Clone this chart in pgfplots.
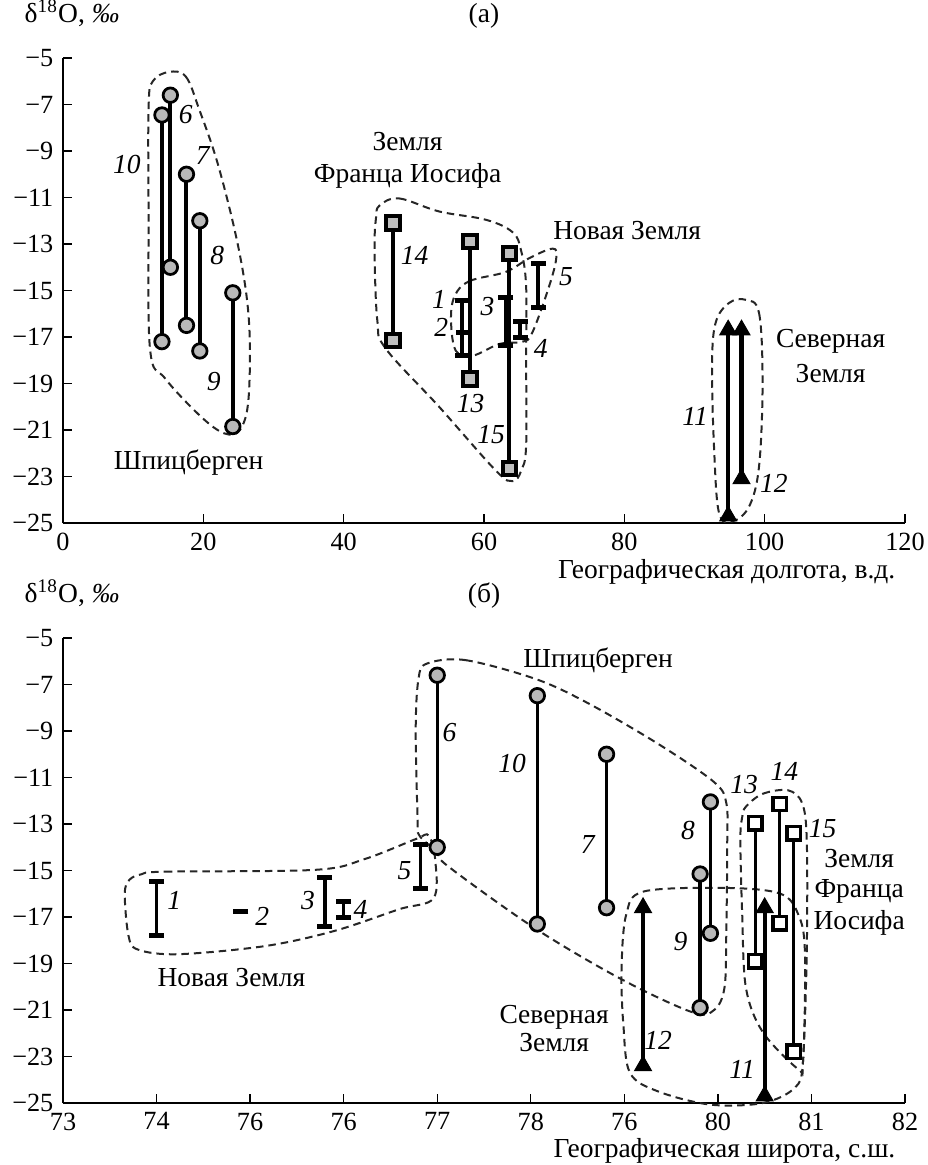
\documentclass[border=0pt]{standalone}
\usepackage{fontspec}
\setmainfont{Liberation Serif}
\usepackage{pgfplots}
\pgfplotsset{compat=1.18}

\tikzset{
  outline/.style={dash pattern=on 3pt off 2pt, line width=0.8pt, black!85},
  num/.style={font=\itshape},
}
\pgfplotsset{
  panel/.style={scale only axis, width=336.8pt, height=186pt,
    axis lines=left, axis line style={-, line width=0.5pt},
    tick align=inside, major tick length=3.6pt,
    tick style={black, line width=0.5pt},
    tick label style={font=\fontsize{10.5}{12}\selectfont},
    ymin=-25, ymax=-5, ytick={-25,-23,...,-5},
    yticklabels={−25,−23,−21,−19,−17,−15,−13,−11,−9,−7,−5},
    clip=false},
  circ/.style={black, line width=#1, mark=*, mark size=2.9pt,
    mark options={fill=gray!55, line width=1.1pt, solid}},
  sq/.style={black, line width=#1, mark=square*, mark size=2.7pt,
    mark options={line width=1.1pt, solid}},
  tri/.style={black, line width=#1, mark=triangle*, mark size=3.9pt,
    mark options={fill=black, line width=0.4pt, solid}},
  ibar/.style={black, line width=#1, mark=-, mark size=3pt,
    mark options={line width=2pt, solid}},
}

\begin{document}
\fontsize{11}{13}\selectfont
\begin{tikzpicture}
\path[use as bounding box] (-25.2pt,209.2pt) rectangle (346pt,-256.8pt);

% (a) longitude
\begin{axis}[panel, at={(0,0)}, anchor=south west,
  xmin=0, xmax=120, xtick={0,20,...,120},
  xticklabels={0,20,40,60,80,100,120}]
% outlines
\draw[outline] plot[smooth cycle, tension=0.6] coordinates {(15.1,-5.6) (17.5,-5.8) (19.4,-7.2) (22.2,-9.7) (25.1,-13.3) (26.5,-16.3) (26.5,-19.4) (25.6,-20.8) (23.7,-21.2) (20.3,-20.6) (14.6,-18.8) (12.4,-17.5) (12.2,-11.7) (12.2,-7.1) (12.8,-6.0)};
\draw[outline] plot[smooth cycle, tension=0.6] coordinates {(45.1,-11.35) (47.9,-11.04) (53.6,-11.6) (60.3,-11.96) (64.1,-12.5) (65.3,-13.3) (66,-14.8) (66,-17.9) (66,-21.7) (65.3,-22.75) (64.1,-23.2) (61.7,-22.75) (53.6,-20) (46,-17.5) (44.8,-16.3) (44.4,-13.3) (44.6,-11.9)};
\draw[outline] plot[smooth cycle, tension=0.6] coordinates {(55.8,-15.25) (57.9,-14.6) (63.1,-14.2) (66.5,-13.6) (69.8,-13.2) (70.3,-13.6) (69.3,-14.8) (66.9,-16.8) (65.5,-17.2) (62.2,-17.3) (58.4,-17.8) (56,-17.6) (55.3,-16.3)};
\draw[outline] plot[smooth cycle, tension=0.6] coordinates {(97.3,-15.4) (99.2,-15.97) (99.7,-18.98) (99.2,-22.56) (97.8,-24.28) (95.4,-24.93) (93.5,-24.57) (92.8,-21.85) (92.5,-18.26) (93,-16.4) (94.9,-15.54)};
% Spitsbergen
\addplot[circ=1.6pt] coordinates {(14.1,-7.45) (14.1,-17.2)};   % 10
\addplot[circ=1.6pt] coordinates {(15.3,-6.6) (15.3,-14.0)};    % 6
\addplot[circ=1.6pt] coordinates {(17.6,-10.0) (17.6,-16.5)};   % 7
\addplot[circ=1.6pt] coordinates {(19.5,-12.0) (19.5,-17.6)};   % 8
\addplot[circ=1.6pt] coordinates {(24.2,-15.1) (24.2,-20.85)};  % 9
% Franz Josef Land
\addplot[sq=1.6pt, mark options={fill=gray!50}] coordinates {(47.0,-12.1) (47.0,-17.15)};  % 14
\addplot[sq=1.6pt, mark options={fill=gray!50}] coordinates {(58.0,-12.9) (58.0,-18.8)};   % 13
\addplot[sq=1.6pt, mark options={fill=gray!50}] coordinates {(63.6,-13.4) (63.6,-22.65)};  % 15
% Novaya Zemlya
\addplot[ibar=1.6pt] coordinates {(56.9,-15.45) (56.9,-17.8)};  % 1
\addplot[ibar=1.6pt] coordinates {(57.1,-16.8)};                 % 2
\addplot[ibar=1.6pt] coordinates {(63.1,-15.3) (63.1,-17.35)};  % 3
\addplot[ibar=1.6pt] coordinates {(65.2,-16.35) (65.2,-17.0)};  % 4
\addplot[ibar=1.6pt] coordinates {(67.7,-13.85) (67.7,-15.75)}; % 5
% Severnaya Zemlya
\addplot[tri=1.8pt] coordinates {(94.8,-16.7) (94.8,-24.7)};    % 11
\addplot[tri=1.8pt] coordinates {(96.7,-16.7) (96.7,-23.1)};    % 12
% labels
\node[num] at (9.1,-9.6) {10};
\node[num] at (17.5,-7.45) {6};
\node[num] at (19.9,-9.2) {7};
\node[num] at (22.0,-13.5) {8};
\node[num] at (21.5,-18.9) {9};
\node[num] at (50.1,-13.5) {14};
\node[num] at (58.1,-19.85) {13};
\node[num] at (61.0,-21.2) {15};
\node[num] at (53.6,-15.4) {1};
\node[num] at (53.9,-16.6) {2};
\node[num] at (60.5,-15.7) {3};
\node[num] at (68.1,-17.5) {4};
\node[num] at (71.7,-14.4) {5};
\node[num] at (90.1,-20.4) {11};
\node[num] at (101.3,-23.28) {12};
\node at (17.9,-22.4) {Шпицберген};
\node at (49.1,-8.6) {Земля};
\node at (49.1,-10.05) {Франца Иосифа};
\node at (80.4,-12.4) {Новая Земля};
\node at (109.4,-17.19) {Северная};
\node at (109.4,-18.55) {Земля};
\node[anchor=base] at (rel axis cs:0.5,1) [yshift=14.4pt] {(а)};
\node[anchor=base] at (rel axis cs:0,1) [xshift=3.6pt, yshift=14.4pt] {δ\textsuperscript{18}O, \textit{‰}};
\node[anchor=base east] at (rel axis cs:1,0) [yshift=-22pt] {Географическая долгота, в.д.};
\end{axis}

% (b) latitude
\begin{axis}[panel, at={(0,-232pt)}, anchor=south west,
  xmin=73, xmax=82, xtick={73,...,82},
  xticklabels={73,74,76,76,77,78,76,80,81,82}]
\draw[outline] plot[smooth cycle, tension=0.55] coordinates {(73.84,-15.16) (74.09,-15.05) (75.7,-14.97) (76.23,-14.5) (76.77,-13.65) (76.91,-13.5) (76.98,-14.6) (76.96,-16.2) (76.59,-16.67) (75.9,-17.6) (75.16,-18.25) (74.23,-18.6) (73.8,-18.4) (73.7,-17.8) (73.66,-16.0) (73.71,-15.4)};
\draw[outline] plot[smooth cycle, tension=0.55] coordinates {(76.89,-6.1) (77.3,-5.95) (78.05,-6.76) (78.61,-7.8) (79.36,-9.55) (79.96,-11.2) (80.09,-12.1) (80.1,-13.7) (80.09,-17.7) (80.07,-20.05) (79.96,-21.0) (79.73,-21.1) (78.98,-19.7) (78.05,-17.5) (77.11,-14.8) (77.0,-14.2) (76.81,-13.5) (76.79,-12.7) (76.77,-8.9) (76.8,-6.75)};
\draw[outline] plot[smooth cycle, tension=0.55] coordinates {(79.21,-15.9) (80.1,-15.75) (80.67,-16.0) (80.86,-16.9) (80.93,-18.5) (80.91,-23.2) (80.82,-24.35) (80.48,-25.0) (79.92,-25.07) (79.36,-24.5) (79.06,-23.7) (78.99,-21.65) (78.97,-19.26) (79.02,-16.9)};
\draw[outline] plot[smooth cycle, tension=0.55] coordinates {(80.3,-12.25) (80.48,-11.7) (80.75,-11.55) (80.9,-12.1) (80.95,-13.7) (80.95,-18.5) (80.91,-23.2) (80.86,-23.55) (80.48,-21.95) (80.3,-20.05) (80.26,-16.9) (80.24,-13.7) (80.26,-12.7)};
% Novaya Zemlya
\addplot[ibar=1.3pt] coordinates {(74.0,-15.48) (74.0,-17.78)};  % 1
\addplot[ibar=1.3pt] coordinates {(74.9,-16.78)};                % 2
\addplot[ibar=1.3pt] coordinates {(75.8,-15.32) (75.8,-17.41)};  % 3
\addplot[ibar=1.3pt] coordinates {(76.0,-16.35) (76.0,-17.02)};  % 4
\addplot[ibar=1.3pt] coordinates {(76.82,-13.86) (76.82,-15.76)};% 5
% Spitsbergen
\addplot[circ=1.3pt] coordinates {(77.0,-6.6) (77.0,-14.0)};     % 6
\addplot[circ=1.3pt] coordinates {(78.07,-7.48) (78.07,-17.3)};  % 10
\addplot[circ=1.3pt] coordinates {(78.81,-10.0) (78.81,-16.6)};  % 7
\addplot[circ=1.3pt] coordinates {(79.92,-12.05) (79.92,-17.7)}; % 8
\addplot[circ=1.3pt] coordinates {(79.81,-15.15) (79.81,-20.9)}; % 9
% Franz Josef Land
\addplot[sq=1.3pt, mark options={fill=white}] coordinates {(80.4,-12.97) (80.4,-18.9)};   % 13
\addplot[sq=1.3pt, mark options={fill=white}] coordinates {(80.66,-12.14) (80.66,-17.27)}; % 14
\addplot[sq=1.3pt, mark options={fill=white}] coordinates {(80.81,-13.4) (80.81,-22.8)};  % 15
% Severnaya Zemlya
\addplot[tri=1.5pt] coordinates {(79.2,-16.6) (79.2,-23.4)};     % 12
\addplot[tri=1.5pt] coordinates {(80.5,-16.6) (80.5,-24.7)};     % 11
% labels
\node[num] at (74.19,-16.27) {1};
\node[num] at (75.13,-16.98) {2};
\node[num] at (75.62,-16.27) {3};
\node[num] at (76.18,-16.67) {4};
\node[num] at (76.65,-15.0) {5};
\node[num] at (77.13,-9.05) {6};
\node[num] at (77.8,-10.4) {10};
\node[num] at (78.61,-13.9) {7};
\node[num] at (79.68,-13.3) {8};
\node[num] at (79.6,-18.05) {9};
\node[num] at (80.28,-11.3) {13};
\node[num] at (80.71,-10.74) {14};
\node[num] at (81.12,-13.2) {15};
\node[num] at (79.36,-22.3) {12};
\node[num] at (80.26,-23.56) {11};
\node at (74.8,-19.6) {Новая Земля};
\node at (78.72,-5.96) {Шпицберген};
\node at (81.51,-14.48) {Земля};
\node at (81.51,-15.9) {Франца};
\node at (81.51,-17.27) {Иосифа};
\node at (78.25,-21.3) {Северная};
\node at (78.25,-22.4) {Земля};
\node[anchor=base] at (rel axis cs:0.5,1) [yshift=14.4pt] {(б)};
\node[anchor=base] at (rel axis cs:0,1) [xshift=3.6pt, yshift=14.4pt] {δ\textsuperscript{18}O, \textit{‰}};
\node[anchor=base east] at (rel axis cs:1,0) [yshift=-21.6pt] {Географическая широта, с.ш.};
\end{axis}
\end{tikzpicture}
\end{document}
